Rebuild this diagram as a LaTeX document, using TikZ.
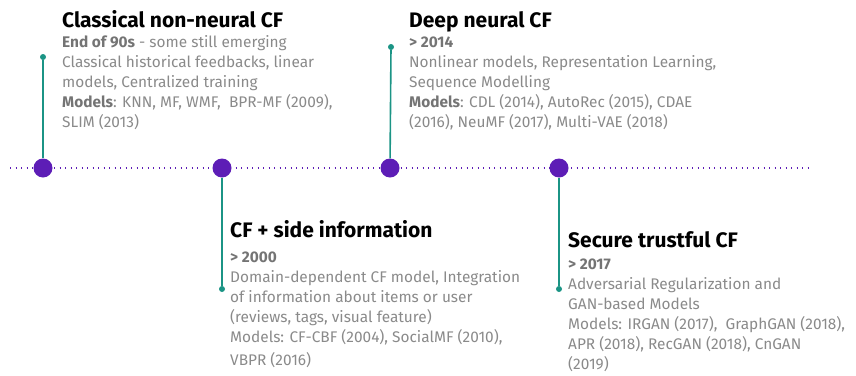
\documentclass[tikz,border=0pt]{standalone}
\usepackage{fontspec}
\setmainfont{Fira Sans}
\usetikzlibrary{positioning}

\definecolor{tlpurple}{HTML}{5D1DB6}
\definecolor{tlteal}{HTML}{1B9485}
\definecolor{tlgray}{HTML}{8A8A8A}
\definecolor{tldark}{HTML}{747474}

\tikzset{
  era/.style={circle, fill=tlpurple, minimum size=19pt, inner sep=0pt},
  pin/.style={circle, fill=tlteal, minimum size=6pt, inner sep=0pt},
  stem/.style={tlteal, line width=1.6pt},
  heading/.style={font=\fontsize{21}{24}\selectfont\bfseries, inner sep=0pt, anchor=base west},
  body/.style={font=\fontsize{15.4}{20}\selectfont, text=tlgray, align=left, inner sep=0pt, anchor=base west},
}
\newcommand{\hl}[1]{\textbf{\color{tldark}#1}}

\begin{document}
\begin{tikzpicture}[x=1pt,y=-1pt]
    \useasboundingbox (0,0) rectangle (856,375);

    \coordinate (t0) at (10,168);
    \coordinate (t1) at (810,168);
    \draw[tlpurple, line width=1.3pt, dash pattern=on 1.3pt off 4.2pt] (t0) -- (t1);

    \node[pin] (p1) at (43,57) {};
    \node[pin] (p2) at (222,289) {};
    \node[pin] (p3) at (391,47) {};
    \node[pin] (p4) at (559,289) {};

    \node[era] (c1) at (43,168) {};
    \node[era] (c2) at (222,168) {};
    \node[era] (c3) at (390,168) {};
    \node[era] (c4) at (559,168) {};

    \draw[stem] (c1) -- (p1);
    \draw[stem] (c2) -- (p2);
    \draw[stem] (c3) -- (p3);
    \draw[stem] (c4) -- (p4);

    \node[heading] (h1) at (62,27) {Classical non-neural CF};
    \node[body] (b1) at (62,127) {\hl{End of 90s} - some still emerging\\
        Classical historical feedbacks, linear\\
        models, Centralized training\\
        \hl{Models}: KNN, MF, WMF,\ \ BPR-MF (2009),\\
        SLIM (2013)};

    \node[heading] (h3) at (409,27) {Deep neural CF};
    \node[body] (b3) at (409,127) {\hl{> 2014}\\
        Nonlinear models, Representation Learning,\\
        Sequence Modelling\\
        \hl{Models}: CDL (2014), AutoRec (2015), CDAE\\
        (2016), NeuMF (2017), Multi-VAE (2018)};

    \node[heading] (h2) at (230,237) {CF + side information};
    \node[body] (b2) at (230,365) {\hl{> 2000}\\
        Domain-dependent CF model, Integration\\
        of information about items or user\\
        (reviews, tags, visual feature)\\
        Models: CF-CBF (2004), SocialMF (2010),\\[3pt]
        VBPR (2016)};

    \node[heading] (h4) at (568,247) {Secure trustful CF};
    \node[body] (b4) at (568,369) {\hl{> 2017}\\
        Adversarial Regularization and\\
        GAN-based Models\\
        Models: IRGAN (2017),\ \ GraphGAN (2018),\\
        APR (2018), RecGAN (2018), CnGAN\\
        (2019)};
\end{tikzpicture}
\end{document}
